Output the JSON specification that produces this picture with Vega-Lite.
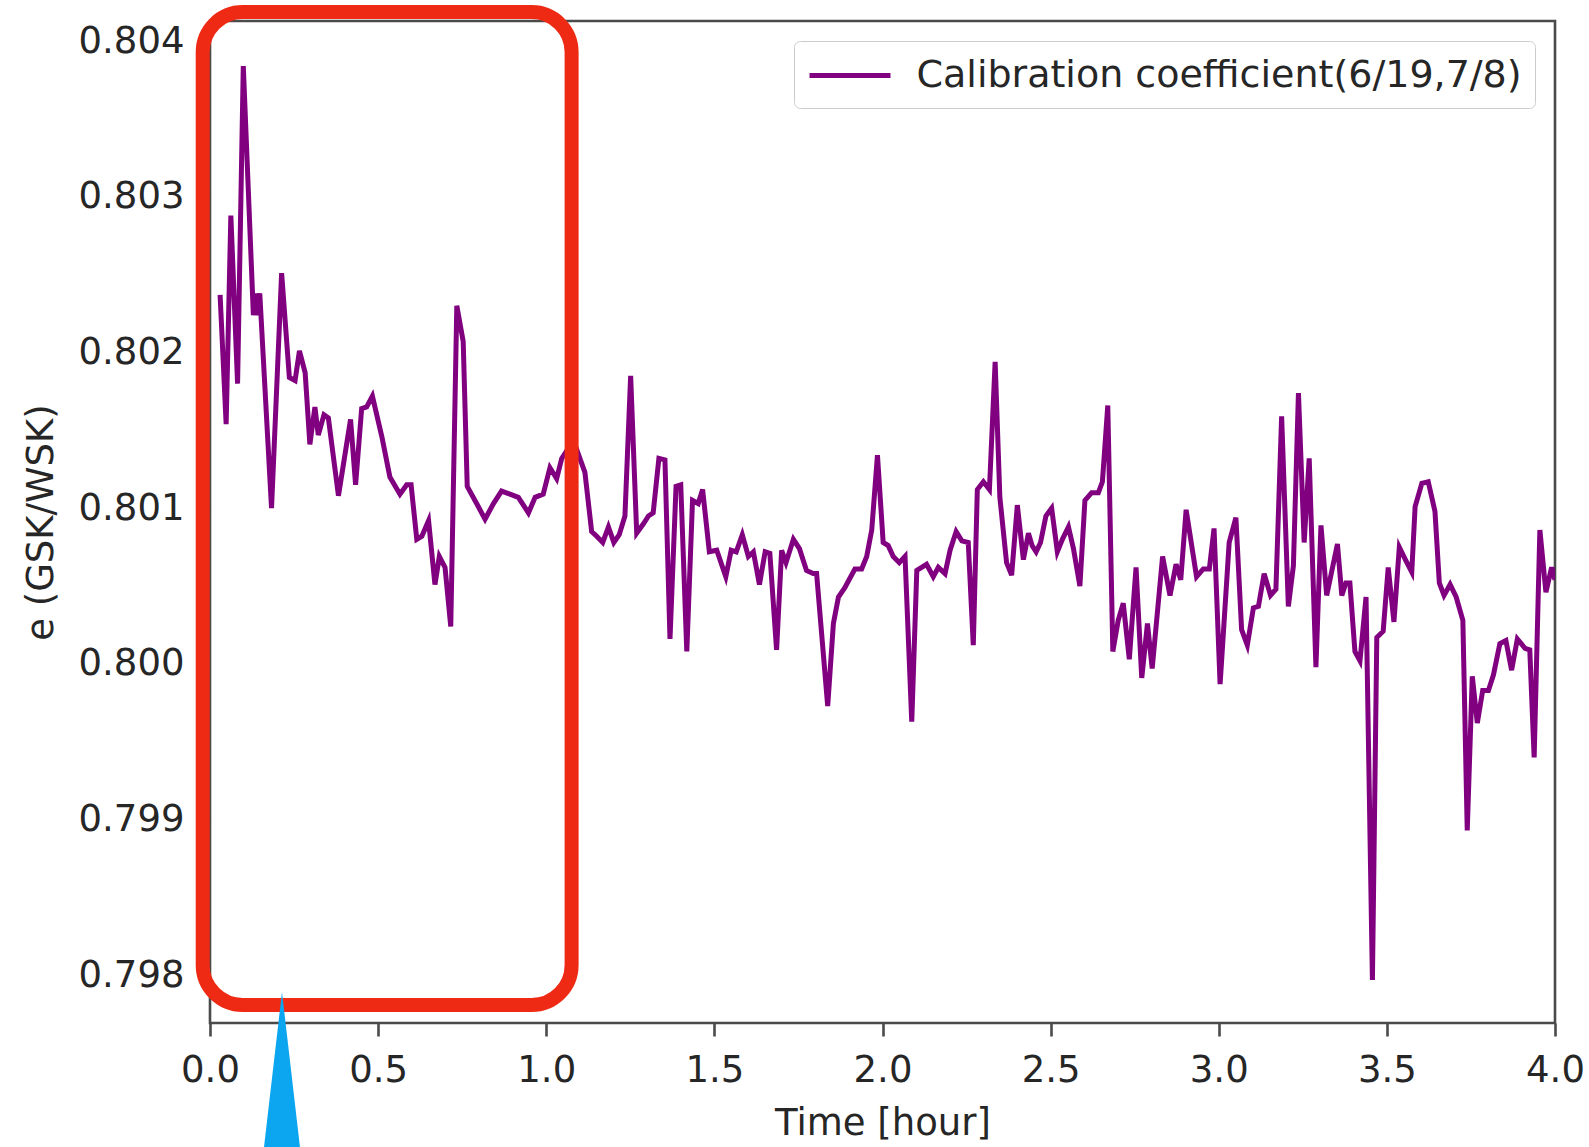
{
  "$schema": "https://vega.github.io/schema/vega-lite/v6.json",
  "width": 1345,
  "height": 1002,
  "autosize": {"type": "none"},
  "padding": {"left": 210, "top": 21, "right": 34, "bottom": 124},
  "background": "white",
  "config": {
    "view": {"stroke": "#4a4a4a", "strokeWidth": 2.6},
    "font": "DejaVu Sans",
    "axis": {
      "domain": false,
      "grid": false,
      "labelFont": "DejaVu Sans",
      "labelFontSize": 37,
      "labelColor": "#262626",
      "titleFont": "DejaVu Sans",
      "titleFontSize": 37,
      "titleFontWeight": "normal",
      "titleColor": "#262626",
      "tickColor": "#4a4a4a",
      "tickWidth": 2.6,
      "tickSize": 13,
      "labelFlush": false,
      "labelOverlap": false,
      "labelBound": false
    },
    "legend": {
      "labelFont": "DejaVu Sans",
      "labelFontSize": 38,
      "labelColor": "#262626",
      "labelLimit": 0
    }
  },
  "datasets": {
    "series": [
      {"t": 0.030, "e": 0.80237}, {"t": 0.048, "e": 0.80154}, {"t": 0.062, "e": 0.80288}, {"t": 0.082, "e": 0.80180},
      {"t": 0.099, "e": 0.80384}, {"t": 0.129, "e": 0.80224}, {"t": 0.136, "e": 0.80238}, {"t": 0.141, "e": 0.80224},
      {"t": 0.148, "e": 0.80238}, {"t": 0.183, "e": 0.80100}, {"t": 0.213, "e": 0.80251}, {"t": 0.236, "e": 0.80184},
      {"t": 0.253, "e": 0.80182}, {"t": 0.266, "e": 0.80201}, {"t": 0.283, "e": 0.80187}, {"t": 0.297, "e": 0.80141},
      {"t": 0.312, "e": 0.80165}, {"t": 0.322, "e": 0.80147}, {"t": 0.339, "e": 0.80160}, {"t": 0.352, "e": 0.80158},
      {"t": 0.382, "e": 0.80108}, {"t": 0.418, "e": 0.80157}, {"t": 0.433, "e": 0.80115}, {"t": 0.451, "e": 0.80164},
      {"t": 0.466, "e": 0.80165}, {"t": 0.483, "e": 0.80172}, {"t": 0.511, "e": 0.80146}, {"t": 0.535, "e": 0.80120},
      {"t": 0.565, "e": 0.80109}, {"t": 0.585, "e": 0.80115}, {"t": 0.598, "e": 0.80115}, {"t": 0.615, "e": 0.80080},
      {"t": 0.630, "e": 0.80082}, {"t": 0.650, "e": 0.80092}, {"t": 0.669, "e": 0.80051}, {"t": 0.682, "e": 0.80069},
      {"t": 0.699, "e": 0.80062}, {"t": 0.716, "e": 0.80024}, {"t": 0.734, "e": 0.80230}, {"t": 0.753, "e": 0.80207},
      {"t": 0.765, "e": 0.80114}, {"t": 0.793, "e": 0.80103}, {"t": 0.818, "e": 0.80093}, {"t": 0.843, "e": 0.80103},
      {"t": 0.867, "e": 0.80111}, {"t": 0.892, "e": 0.80109}, {"t": 0.917, "e": 0.80107}, {"t": 0.947, "e": 0.80097},
      {"t": 0.967, "e": 0.80107}, {"t": 0.991, "e": 0.80109}, {"t": 1.011, "e": 0.80126}, {"t": 1.031, "e": 0.80119},
      {"t": 1.046, "e": 0.80132}, {"t": 1.061, "e": 0.80137}, {"t": 1.085, "e": 0.80141}, {"t": 1.115, "e": 0.80123},
      {"t": 1.135, "e": 0.80085}, {"t": 1.150, "e": 0.80082}, {"t": 1.168, "e": 0.80078}, {"t": 1.185, "e": 0.80088},
      {"t": 1.201, "e": 0.80078}, {"t": 1.217, "e": 0.80083}, {"t": 1.234, "e": 0.80095}, {"t": 1.251, "e": 0.80185},
      {"t": 1.269, "e": 0.80084}, {"t": 1.289, "e": 0.80090}, {"t": 1.304, "e": 0.80095}, {"t": 1.318, "e": 0.80097},
      {"t": 1.335, "e": 0.80132}, {"t": 1.353, "e": 0.80131}, {"t": 1.368, "e": 0.80016}, {"t": 1.386, "e": 0.80114},
      {"t": 1.400, "e": 0.80115}, {"t": 1.418, "e": 0.80008}, {"t": 1.435, "e": 0.80105}, {"t": 1.452, "e": 0.80103},
      {"t": 1.465, "e": 0.80112}, {"t": 1.485, "e": 0.80072}, {"t": 1.507, "e": 0.80073}, {"t": 1.534, "e": 0.80056},
      {"t": 1.550, "e": 0.80073}, {"t": 1.565, "e": 0.80072}, {"t": 1.583, "e": 0.80083}, {"t": 1.601, "e": 0.80069},
      {"t": 1.616, "e": 0.80072}, {"t": 1.634, "e": 0.80051}, {"t": 1.651, "e": 0.80072}, {"t": 1.665, "e": 0.80071},
      {"t": 1.685, "e": 0.80009}, {"t": 1.700, "e": 0.80073}, {"t": 1.713, "e": 0.80065}, {"t": 1.735, "e": 0.80080},
      {"t": 1.753, "e": 0.80074}, {"t": 1.774, "e": 0.80060}, {"t": 1.794, "e": 0.80058}, {"t": 1.804, "e": 0.80058},
      {"t": 1.837, "e": 0.79973}, {"t": 1.854, "e": 0.80026}, {"t": 1.869, "e": 0.80043}, {"t": 1.888, "e": 0.80049},
      {"t": 1.903, "e": 0.80055}, {"t": 1.918, "e": 0.80061}, {"t": 1.938, "e": 0.80061}, {"t": 1.953, "e": 0.80069},
      {"t": 1.968, "e": 0.80086}, {"t": 1.985, "e": 0.80134}, {"t": 2.002, "e": 0.80078}, {"t": 2.017, "e": 0.80076},
      {"t": 2.032, "e": 0.80069}, {"t": 2.050, "e": 0.80065}, {"t": 2.067, "e": 0.80069}, {"t": 2.087, "e": 0.79963},
      {"t": 2.102, "e": 0.80060}, {"t": 2.131, "e": 0.80064}, {"t": 2.151, "e": 0.80056}, {"t": 2.166, "e": 0.80062},
      {"t": 2.186, "e": 0.80058}, {"t": 2.201, "e": 0.80073}, {"t": 2.219, "e": 0.80085}, {"t": 2.236, "e": 0.80079},
      {"t": 2.255, "e": 0.80078}, {"t": 2.270, "e": 0.80012}, {"t": 2.282, "e": 0.80112}, {"t": 2.300, "e": 0.80117},
      {"t": 2.318, "e": 0.80112}, {"t": 2.335, "e": 0.80194}, {"t": 2.349, "e": 0.80107}, {"t": 2.369, "e": 0.80065},
      {"t": 2.384, "e": 0.80057}, {"t": 2.401, "e": 0.80102}, {"t": 2.419, "e": 0.80067}, {"t": 2.434, "e": 0.80084},
      {"t": 2.445, "e": 0.80076}, {"t": 2.457, "e": 0.80072}, {"t": 2.470, "e": 0.80078}, {"t": 2.486, "e": 0.80095},
      {"t": 2.503, "e": 0.80100}, {"t": 2.520, "e": 0.80072}, {"t": 2.535, "e": 0.80080}, {"t": 2.553, "e": 0.80088},
      {"t": 2.568, "e": 0.80074}, {"t": 2.587, "e": 0.80050}, {"t": 2.602, "e": 0.80105}, {"t": 2.622, "e": 0.80110},
      {"t": 2.642, "e": 0.80110}, {"t": 2.654, "e": 0.80117}, {"t": 2.670, "e": 0.80166}, {"t": 2.685, "e": 0.80008},
      {"t": 2.701, "e": 0.80028}, {"t": 2.716, "e": 0.80039}, {"t": 2.734, "e": 0.80003}, {"t": 2.754, "e": 0.80062},
      {"t": 2.771, "e": 0.79991}, {"t": 2.788, "e": 0.80026}, {"t": 2.802, "e": 0.79997}, {"t": 2.833, "e": 0.80069},
      {"t": 2.855, "e": 0.80044}, {"t": 2.873, "e": 0.80064}, {"t": 2.887, "e": 0.80054}, {"t": 2.903, "e": 0.80099},
      {"t": 2.934, "e": 0.80056}, {"t": 2.954, "e": 0.80061}, {"t": 2.972, "e": 0.80061}, {"t": 2.986, "e": 0.80087},
      {"t": 3.004, "e": 0.79987}, {"t": 3.031, "e": 0.80078}, {"t": 3.051, "e": 0.80094}, {"t": 3.068, "e": 0.80022},
      {"t": 3.085, "e": 0.80012}, {"t": 3.103, "e": 0.80036}, {"t": 3.118, "e": 0.80037}, {"t": 3.135, "e": 0.80058},
      {"t": 3.154, "e": 0.80044}, {"t": 3.170, "e": 0.80048}, {"t": 3.187, "e": 0.80159}, {"t": 3.207, "e": 0.80037},
      {"t": 3.222, "e": 0.80063}, {"t": 3.237, "e": 0.80174}, {"t": 3.254, "e": 0.80078}, {"t": 3.269, "e": 0.80132},
      {"t": 3.289, "e": 0.79998}, {"t": 3.304, "e": 0.80089}, {"t": 3.321, "e": 0.80044}, {"t": 3.353, "e": 0.80077},
      {"t": 3.366, "e": 0.80044}, {"t": 3.378, "e": 0.80052}, {"t": 3.390, "e": 0.80052}, {"t": 3.405, "e": 0.80008},
      {"t": 3.420, "e": 0.80002}, {"t": 3.438, "e": 0.80043}, {"t": 3.457, "e": 0.79797}, {"t": 3.470, "e": 0.80017},
      {"t": 3.489, "e": 0.80021}, {"t": 3.504, "e": 0.80062}, {"t": 3.521, "e": 0.80027}, {"t": 3.537, "e": 0.80075},
      {"t": 3.555, "e": 0.80067}, {"t": 3.574, "e": 0.80059}, {"t": 3.584, "e": 0.80101}, {"t": 3.604, "e": 0.80116},
      {"t": 3.623, "e": 0.80117}, {"t": 3.643, "e": 0.80098}, {"t": 3.656, "e": 0.80052}, {"t": 3.670, "e": 0.80044},
      {"t": 3.688, "e": 0.80051}, {"t": 3.706, "e": 0.80043}, {"t": 3.726, "e": 0.80028}, {"t": 3.739, "e": 0.79893},
      {"t": 3.754, "e": 0.79992}, {"t": 3.769, "e": 0.79962}, {"t": 3.785, "e": 0.79983}, {"t": 3.802, "e": 0.79983},
      {"t": 3.817, "e": 0.79993}, {"t": 3.836, "e": 0.80013}, {"t": 3.854, "e": 0.80015}, {"t": 3.871, "e": 0.79996},
      {"t": 3.888, "e": 0.80016}, {"t": 3.911, "e": 0.80010}, {"t": 3.925, "e": 0.80009}, {"t": 3.938, "e": 0.79940},
      {"t": 3.955, "e": 0.80086}, {"t": 3.973, "e": 0.80046}, {"t": 3.990, "e": 0.80062}, {"t": 4.000, "e": 0.80054}
    ],
    "box": [{"t0": -0.0217, "t1": 1.0754, "e0": 0.804186, "e1": 0.79781}],
    "pointer": [{"t": 0.2141, "e": 0.797395}]
  },
  "layer": [
    {
      "data": {"name": "series"},
      "mark": {"type": "line", "stroke": "purple", "strokeWidth": 5, "clip": true},
      "encoding": {
        "x": {
          "field": "t", "type": "quantitative",
          "scale": {"domain": [0, 4], "nice": false, "zero": false},
          "axis": {"values": [0, 0.5, 1, 1.5, 2, 2.5, 3, 3.5, 4], "format": ".1f", "title": "Time [hour]", "labelPadding": 16, "titlePadding": 17}
        },
        "y": {
          "field": "e", "type": "quantitative",
          "scale": {"domain": [0.797694, 0.804129], "nice": false, "zero": false},
          "axis": {"values": [0.798, 0.799, 0.8, 0.801, 0.802, 0.803, 0.804], "format": ".3f", "title": "e (GSK/WSK)", "labelPadding": 13, "titlePadding": 18}
        },
        "color": {
          "datum": "Calibration coefficient(6/19,7/8)",
          "type": "nominal",
          "scale": {"range": ["purple"]},
          "legend": {
            "title": null,
            "orient": "top-right",
            "offset": 20,
            "symbolType": "M-2.13,0L2.13,0",
            "symbolSize": 1444,
            "symbolStrokeWidth": 5,
            "symbolOffset": 21.5,
            "labelOffset": 45,
            "padding": 13,
            "strokeColor": "#cccccc",
            "fillColor": "white",
            "cornerRadius": 6
          }
        }
      }
    },
    {
      "data": {"name": "box"},
      "mark": {"type": "rect", "fill": null, "fillOpacity": 0, "stroke": "#EE2A14", "strokeWidth": 14, "cornerRadius": 40, "clip": false},
      "encoding": {
        "x": {"field": "t0", "type": "quantitative"},
        "x2": {"field": "t1"},
        "y": {"field": "e0", "type": "quantitative"},
        "y2": {"field": "e1"}
      }
    },
    {
      "data": {"name": "pointer"},
      "mark": {"type": "point", "shape": "M0,-1L0.232,1L-0.232,1Z", "filled": true, "fill": "#0BA5F0", "opacity": 1, "strokeWidth": 0, "size": 24025, "clip": false},
      "encoding": {
        "x": {"field": "t", "type": "quantitative"},
        "y": {"field": "e", "type": "quantitative"}
      }
    }
  ]
}
